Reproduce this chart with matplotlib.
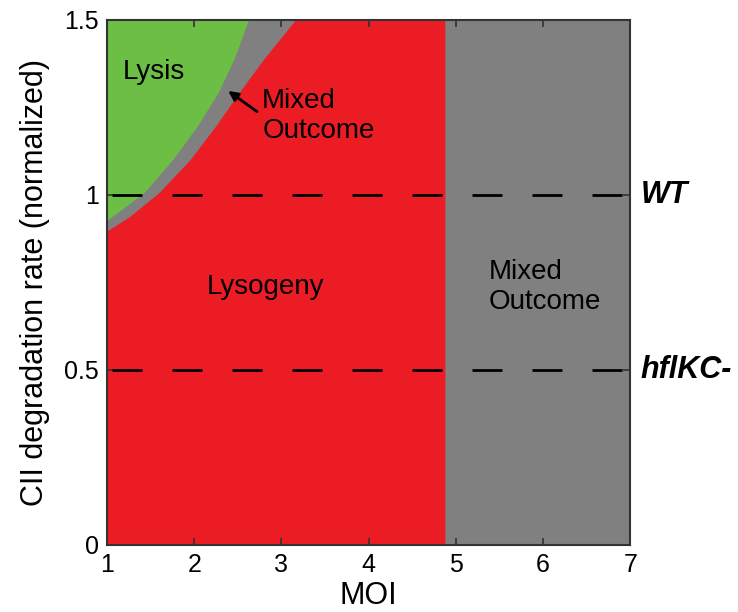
import numpy as np
import matplotlib
matplotlib.use("Agg")
import matplotlib.pyplot as plt

plt.rcParams["font.family"] = ["Liberation Sans", "DejaVu Sans"]

# phase boundaries (MOI vs normalized CII degradation rate)
lysis_y = [0.925, 1.005, 1.10, 1.195, 1.291, 1.386, 1.5]
lysis_moi = [1.0, 1.43, 1.76, 2.04, 2.28, 2.46, 2.63]
lysogeny_y = [0.895, 0.938, 1.005, 1.10, 1.195, 1.291, 1.386, 1.5]
lysogeny_moi = [1.0, 1.27, 1.60, 1.96, 2.25, 2.52, 2.80, 3.17]
moi_split = 4.88  # lysogeny / mixed outcome border at high MOI

strain_rates = [1.0, 0.5]
strain_names = ["WT", "hflKC-"]

x_ticks = [1, 2, 3, 4, 5, 6, 7]
y_ticks = [0, 0.5, 1, 1.5]
y_tick_labels = ["0", "0.5", "1", "1.5"]

red = "#EC1C24"
green = "#6CBE45"
gray = "#808080"

fig = plt.figure(figsize=(7.38, 6.12), dpi=100)
ax = fig.add_axes([0.145, 0.1095, 0.709, 0.858])
ax.set_xlim(1, 7)
ax.set_ylim(0, 1.5)
ax.set_facecolor(gray)

# lysogeny region
red_x = [1, moi_split, moi_split] + lysogeny_moi[::-1] + [1]
red_y = [0, 0, 1.5] + lysogeny_y[::-1] + [0]
ax.fill(red_x, red_y, color=red, lw=0, zorder=1)

# lysis region
green_x = lysis_moi + [1]
green_y = lysis_y + [1.5]
ax.fill(green_x, green_y, color=green, lw=0, zorder=1)

# strain reference lines
for rate, name in zip(strain_rates, strain_names):
    ax.axhline(rate, color="black", lw=2, linestyle=(19.8, (10.8, 10.8)), zorder=3)
    ax.text(7.115, rate, name, fontsize=22, fontweight="bold", fontstyle="italic",
            va="center", ha="left", clip_on=False)

ax.text(1.18, 1.35, "Lysis", fontsize=20, va="center", ha="left")
ax.text(2.78, 1.225, "Mixed\nOutcome", fontsize=20, va="center", ha="left")
ax.text(2.82, 0.737, "Lysogeny", fontsize=20, va="center", ha="center")
ax.text(5.38, 0.737, "Mixed\nOutcome", fontsize=20, va="center", ha="left")
ax.annotate("", xy=(2.39, 1.297), xytext=(2.72, 1.238),
            arrowprops=dict(arrowstyle="-|>", color="black", lw=2,
                            mutation_scale=14, shrinkA=0, shrinkB=0))

ax.set_xticks(x_ticks)
ax.set_yticks(y_ticks)
ax.set_yticklabels(y_tick_labels)
ax.tick_params(direction="in", length=5, width=1.2, colors="#333333",
               labelcolor="black", labelsize=18, top=True, right=True, pad=6)
for sp in ax.spines.values():
    sp.set_color("#333333")
    sp.set_linewidth(1.5)
    sp.set_zorder(5)

ax.set_xlabel("MOI", fontsize=22, labelpad=3)
ax.set_ylabel("CII degradation rate (normalized)", fontsize=22, labelpad=10)

fig.savefig("out.png", dpi=100)
